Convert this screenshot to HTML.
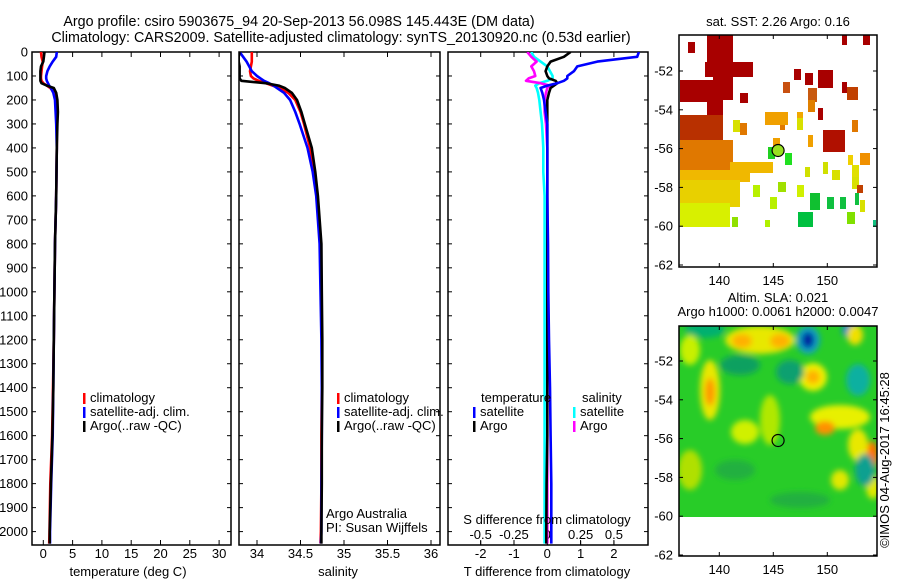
<!DOCTYPE html>
<html><head><meta charset="utf-8"><style>
html,body{margin:0;padding:0;background:#fff;}
svg{display:block;font-family:"Liberation Sans",sans-serif;}
text{font-size:13px;fill:#000;}
text.ttl{font-size:14.3px;}
</style></head><body>
<svg id="fig" width="900" height="580" viewBox="0 0 900 580" xmlns="http://www.w3.org/2000/svg">
<defs>
<clipPath id="c1"><rect x="32" y="52" width="199" height="493"/></clipPath>
<clipPath id="c2"><rect x="239" y="52" width="201" height="493"/></clipPath>
<clipPath id="c3"><rect x="448" y="52" width="200" height="493"/></clipPath>
<clipPath id="cm2"><rect x="679" y="326" width="198" height="191"/></clipPath>
<filter id="blur" x="-20%" y="-20%" width="140%" height="140%"><feGaussianBlur stdDeviation="3"/></filter>
</defs>
<text class="ttl" x="299" y="26" text-anchor="middle">Argo profile: csiro 5903675_94 20-Sep-2013 56.098S 145.443E (DM data)</text>
<text class="ttl" x="341" y="42" text-anchor="middle">Climatology: CARS2009. Satellite-adjusted climatology: synTS_20130920.nc (0.53d earlier)</text>
<g id="axes"></g>
<g id="maps"></g>
</svg>
<script>
const depths=[0,20,40,60,80,100,110,120,130,140,150,170,200,250,300,400,500,600,800,1000,1200,1400,1600,1800,2000,2050];
const tClim=[-0.4,-0.3,-0.1,-0.2,-0.3,-0.4,-0.4,-0.3,0.0,0.6,1.2,1.9,2.2,2.3,2.3,2.3,2.25,2.2,2.0,1.9,1.8,1.65,1.5,1.2,1.05,1.0];
const tSat=[2.3,2.2,1.6,1.1,0.7,0.5,0.5,0.6,0.8,1.0,1.3,1.7,2.0,2.1,2.2,2.3,2.25,2.2,2.0,1.9,1.8,1.7,1.6,1.35,1.15,1.15];
const tArgo=[0.2,0.1,0.0,-0.4,-0.5,-0.5,-0.5,-0.5,-0.3,0.6,1.8,2.2,2.4,2.5,2.4,2.3,2.25,2.2,2.0,1.9,1.8,1.7,1.55,1.3,1.1,1.1];
const sClim=[33.94,33.94,33.94,33.93,33.92,33.93,33.96,34.02,34.1,34.18,34.26,34.36,34.44,34.5,34.54,34.61,34.66,34.69,34.73,34.74,34.745,34.745,34.74,34.74,34.735,34.73];
const sSat=[33.8,33.84,33.88,33.91,33.94,34.0,34.04,34.08,34.14,34.19,34.23,34.31,34.38,34.44,34.49,34.58,34.64,34.68,34.72,34.73,34.74,34.745,34.745,34.74,34.74,34.735];
const sArgo=[33.8,33.79,33.79,33.8,33.8,33.8,33.8,33.82,34.1,34.25,34.32,34.4,34.46,34.51,34.55,34.63,34.67,34.7,34.74,34.745,34.75,34.75,34.745,34.745,34.74,34.74];
const tdSat=[2.75,2.7,1.5,0.9,0.8,0.6,0.6,0.5,0.3,0.0,-0.2,-0.15,-0.1,-0.05,0.0,0.0,0.0,0.0,0.02,0.03,0.05,0.08,0.1,0.12,0.12,0.12];
const tdArgo=[0.7,0.5,0.1,0.0,-0.05,0.0,0.05,0.25,0.3,0.2,0.1,0.05,0.0,0.0,0.0,0.0,0.0,0.0,0.0,0.0,0.0,0.0,0.0,-0.02,-0.03,-0.03];
const sdSat=[-0.12,-0.1,-0.05,0.0,0.02,0.04,0.04,0.0,-0.06,-0.09,-0.08,-0.07,-0.06,-0.05,-0.04,-0.03,-0.03,-0.02,-0.02,-0.02,-0.02,-0.02,-0.02,-0.02,-0.02,-0.02];
const sdArgo=[-0.15,-0.12,-0.08,-0.12,-0.1,-0.09,-0.14,-0.16,-0.05,0.02,0.0,-0.01,-0.02,-0.02,-0.01,0.0,0.0,0.0,0.0,0.0,0.0,0.0,0.0,0.0,0.0,0.0];
const depthTicks=[0,100,200,300,400,500,600,700,800,900,1000,1100,1200,1300,1400,1500,1600,1700,1800,1900,2000];
const tempTicks=[0,5,10,15,20,25,30];
const salTicks=[34,34.5,35,35.5,36];
const tdTicks=[-2,-1,0,1,2];
const sdTicks=[-0.5,-0.25,0,0.25,0.5];
const latTicks=[-52,-54,-56,-58,-60,-62];
const lonTicks=[140,145,150];

const NS="http://www.w3.org/2000/svg";
const G=document.getElementById('axes');
function mk(tag,attrs,parent){const e=document.createElementNS(NS,tag);for(const k in attrs)e.setAttribute(k,attrs[k]);(parent||G).appendChild(e);return e;}
function txt(x,y,s,anchor,parent){const t=mk('text',{x:x,y:y,'text-anchor':anchor||'middle'},parent);t.textContent=s;return t;}
const yD=d=>52+d*0.2398;
const xT=v=>43.3+v*5.86;
const xS=v=>257+(v-34)*87;
const xTD=v=>547.3+v*33.3;
const xSD=v=>547.3+v*133.3;

function frame(x0,x1,name){
  const r=mk('rect',{x:x0,y:52,width:x1-x0,height:493,fill:'none',stroke:'#000','stroke-width':1.5});
  
  
  depthTicks.forEach(d=>{mk('line',{x1:x0,x2:x0+4,y1:yD(d),y2:yD(d),stroke:'#000'});mk('line',{x1:x1,x2:x1-4,y1:yD(d),y2:yD(d),stroke:'#000'});});
}
function xticks(vals,fx,labelY,lblFmt,name){
  vals.forEach(v=>{const x=fx(v);mk('line',{x1:x,x2:x,y1:52,y2:57,stroke:'#000'});mk('line',{x1:x,x2:x,y1:545,y2:540,stroke:'#000'});
    const t=txt(x,labelY,lblFmt(v));
    
    });
}
function line(xs,fx,color,clip,name){
  let d='';xs.forEach((v,i)=>{d+=(i?'L':'M')+fx(v).toFixed(1)+','+yD(depths[i]).toFixed(1);});
  const p=mk('path',{d:d,fill:'none',stroke:color,'stroke-width':2.6,'stroke-linejoin':'round','clip-path':'url(#'+clip+')'});
  
  
}
frame(32,231,'temperature-panel');frame(239,440,'salinity-panel');frame(448,648,'difference-panel');
depthTicks.forEach(d=>{const t=txt(28,yD(d)+4.5,String(d),'end');
  
  });
xticks(tempTicks,xT,558,v=>String(v),'temperature-tick-label');
xticks(salTicks,xS,558,v=>String(v),'salinity-tick-label');
xticks(tdTicks,xTD,558,v=>String(v),'t-diff-tick-label');
sdTicks.forEach(v=>{const x=xSD(v);mk('line',{x1:x,x2:x,y1:545,y2:541,stroke:'#000'});
  const t=txt(x,539,String(v));
  
  });
line(tClim,xT,'#ff0000','c1','temp-climatology-line');
line(tSat,xT,'#0000ff','c1','temp-satellite-line');
line(tArgo,xT,'#000000','c1','temp-argo-line');
line(sClim,xS,'#ff0000','c2','sal-climatology-line');
line(sSat,xS,'#0000ff','c2','sal-satellite-line');
line(sArgo,xS,'#000000','c2','sal-argo-line');
line(sdSat,xSD,'#00ffff','c3','s-diff-satellite-line');
line(sdArgo,xSD,'#ff00ff','c3','s-diff-argo-line');
line(tdArgo,xTD,'#000000','c3','t-diff-argo-line');
line(tdSat,xTD,'#0000ff','c3','t-diff-satellite-line');
function leg(x,y,color,label,name){mk('rect',{x:x,y:y-9,width:2.5,height:11,fill:color});
  const t=txt(x+7,y,label,'start');
  
  }
leg(83,402,'#ff0000','climatology','legend-climatology');
leg(83,416,'#0000ff','satellite-adj. clim.','legend-satellite');
leg(83,430,'#000000','Argo(..raw -QC)','legend-argo');
leg(337,402,'#ff0000','climatology','legend-climatology-2');
leg(337,416,'#0000ff','satellite-adj. clim.','legend-satellite-2');
leg(337,430,'#000000','Argo(..raw -QC)','legend-argo-2');
txt(481,402,'temperature','start');
leg(473,416,'#0000ff','satellite','legend-t-satellite');
leg(473,430,'#000000','Argo','legend-t-argo');
txt(582,402,'salinity','start');
leg(573,416,'#00ffff','satellite','legend-s-satellite');
leg(573,430,'#ff00ff','Argo','legend-s-argo');
txt(326,518,'Argo Australia','start');
txt(326,532,'PI: Susan Wijffels','start');
txt(547,524,'S difference from climatology');
txt(128,576,'temperature (deg C)');
txt(338,576,'salinity');
txt(547,576,'T difference from climatology');

const M=document.getElementById('maps');
const yLat1=l=>71+(-52-l)*19.4;
const yLat2=l=>361+(-52-l)*19.4;
const xLon=l=>719.3+(l-140)*10.8;
const sst=[
[707,35,26,28,'#a80000'],[688,42,7,11,'#a80000'],[705,62,48,15,'#a80000'],[713,63,20,37,'#a80000'],[680,80,33,22,'#a80000'],[707,100,16,17,'#a80000'],[740,93,8,10,'#a80000'],
[842,35,5,10,'#a80000'],[863,35,7,10,'#a80000'],[794,69,7,11,'#a80000'],[805,73,8,12,'#a80000'],[818,70,15,18,'#a80000'],[818,108,5,12,'#a80000'],[842,82,5,11,'#a80000'],[823,130,22,22,'#b01000'],
[680,115,43,35,'#b83000'],[847,87,11,13,'#c04000'],[783,82,7,11,'#c85010'],[808,88,9,14,'#c85a10'],
[680,140,53,37,'#e07800'],[740,123,7,12,'#e07800'],[808,100,7,12,'#e08000'],[852,120,6,12,'#e07800'],[860,153,10,12,'#f09000'],[808,135,5,12,'#f0a000'],[773,138,7,9,'#f0a000'],[780,123,5,7,'#e07800'],
[765,112,23,13,'#f0a000'],[797,112,6,8,'#f0a800'],
[730,162,43,11,'#f0b800'],[680,170,70,12,'#f0b800'],[680,180,60,27,'#e8d000'],[680,203,50,24,'#d8f000'],
[733,120,7,12,'#d8e000'],[797,118,6,12,'#d8e000'],[753,185,7,12,'#b8f000'],[770,197,7,12,'#b8f000'],[797,185,7,12,'#d0f000'],[778,182,8,10,'#a0e000'],[805,167,5,10,'#d0e000'],[823,162,5,12,'#d0e000'],[832,170,8,10,'#d8e000'],[852,177,7,12,'#d8e000'],[860,200,5,12,'#d8e000'],[848,155,5,10,'#f0d000'],[852,165,7,12,'#e0e000'],
[732,217,6,10,'#90e000'],[765,220,5,7,'#b0f000'],
[768,147,7,12,'#20d020'],[785,153,7,12,'#20e020'],[810,193,10,17,'#10c030'],[827,197,7,12,'#10c040'],[840,197,6,12,'#10c040'],[798,212,15,15,'#00c040'],[855,193,4,12,'#10c040'],[873,220,3,7,'#10c080'],[847,212,8,12,'#80e000'],[857,185,6,8,'#c04000']
];
sst.forEach(r=>{const e=mk('rect',{x:r[0],y:r[1],width:r[2],height:r[3],fill:r[4]},M);
  
  });
const g2=mk('g',{'clip-path':'url(#cm2)'},M);
mk('rect',{x:679,y:326,width:198,height:191,fill:'#28cc28'},g2);
const blobs=mk('g',{filter:'url(#blur)'},g2);
const bl=[
[705,330,20,8,'#00b070'],[760,340,35,14,'#e8e800'],[742,341,10,7,'#ffb000'],[780,341,10,7,'#ffb000'],
[808,340,12,14,'#10a0c0'],[808,340,6,8,'#0020a0'],[850,330,8,8,'#1080d0'],[858,380,7,10,'#1060c0'],[858,380,12,16,'#10b0a0'],
[813,377,14,14,'#f0f000'],[813,377,7,7,'#ffb000'],[710,390,10,30,'#e8e800'],[710,392,5,14,'#ff9800'],
[790,372,14,12,'#10a070'],[740,365,20,10,'#10a060'],
[840,417,30,12,'#e8f000'],[825,428,10,7,'#ff9000'],[858,440,5,10,'#ff9000'],[872,455,6,14,'#ff7000'],[858,445,10,16,'#e8e800'],
[873,487,7,12,'#e0e800'],[840,480,9,10,'#e0e800'],[865,470,10,16,'#10a090'],[690,470,12,20,'#b0e000'],[770,420,10,25,'#b0e800'],[745,432,14,12,'#d0f000'],[735,470,20,10,'#20b040'],[800,500,30,8,'#20b040'],[855,335,8,10,'#f0e000'],[690,350,10,15,'#c8f000']
];
bl.forEach(b=>{mk('ellipse',{cx:b[0],cy:b[1],rx:b[2],ry:b[3],fill:b[4]},blobs);});
function mapAxes(y0,y1,yLat,name){
  const r=mk('rect',{x:679,y:y0,width:198,height:y1-y0,fill:'none',stroke:'#000','stroke-width':1.5},M);
  
  
  latTicks.forEach(l=>{const y=yLat(l);mk('line',{x1:679,x2:683,y1:y,y2:y,stroke:'#000'},M);mk('line',{x1:877,x2:873,y1:y,y2:y,stroke:'#000'},M);
    const t=txt(673,y+4.5,String(l),'end',M);
    
    });
  lonTicks.forEach(l=>{const x=xLon(l);mk('line',{x1:x,x2:x,y1:y0,y2:y0+4,stroke:'#000'},M);mk('line',{x1:x,x2:x,y1:y1,y2:y1-4,stroke:'#000'},M);
    const t=txt(x,y1+18,String(l),'middle',M);
    
    });
}
mapAxes(35,267,yLat1,'sst-map');
mapAxes(326,556,yLat2,'sla-map');
const c1=mk('circle',{cx:xLon(145.443),cy:yLat1(-56.098),r:6,fill:'#98e020',stroke:'#000','stroke-width':1.2},M);


const c2=mk('circle',{cx:xLon(145.443),cy:yLat2(-56.098),r:6,fill:'none',stroke:'#000','stroke-width':1.2},M);


txt(778,26,'sat. SST: 2.26 Argo: 0.16','middle',M);
txt(778,302,'Altim. SLA: 0.021','middle',M);
txt(778,316,'Argo h1000: 0.0061 h2000: 0.0047','middle',M);
const imos=txt(0,0,'©IMOS 04-Aug-2017 16:45:28','middle',M);
imos.setAttribute('transform','translate(889,460) rotate(-90)');


</script>
</body></html>
